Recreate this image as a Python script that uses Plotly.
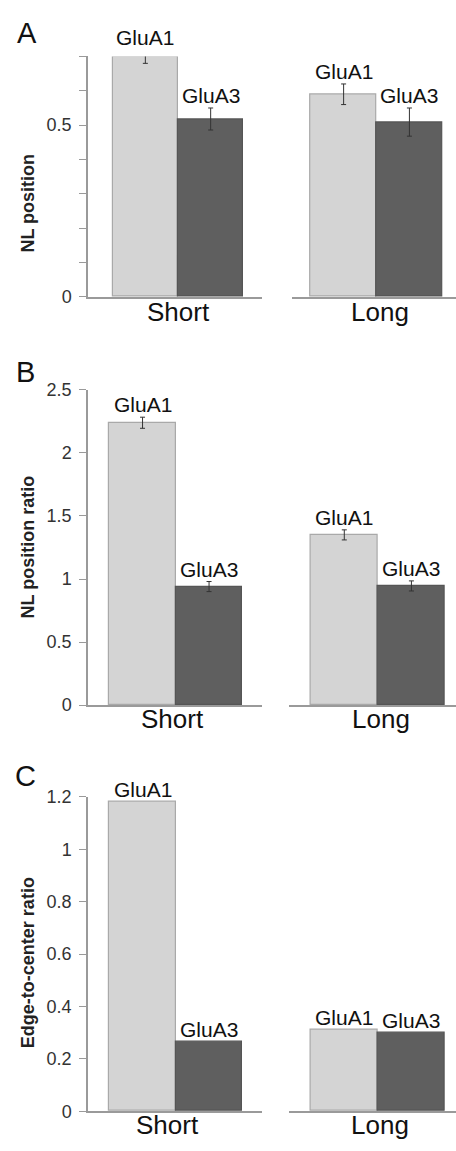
import plotly.graph_objects as go

# ---------------- data ----------------
groups = ["Short", "Long"]
subunits = ["GluA1", "GluA3"]

# Panel A: NL position
A_glua1 = [0.70, 0.59]
A_glua1_err = [0.020, 0.030]
A_glua3 = [0.518, 0.509]
A_glua3_err = [0.032, 0.041]

# Panel B: NL position ratio
B_glua1 = [2.24, 1.35]
B_glua1_err = [0.044, 0.040]
B_glua3 = [0.94, 0.945]
B_glua3_err = [0.040, 0.040]

# Panel C: Edge-to-center ratio (no error bars)
C_glua1 = [1.18, 0.31]
C_glua3 = [0.265, 0.30]

A_ticks = [0, 0.1, 0.2, 0.3, 0.4, 0.5, 0.6, 0.7]
A_ticktext = ["0", "", "", "", "", "0.5", "", ""]
B_ticks = [0, 0.5, 1, 1.5, 2, 2.5]
B_ticktext = ["0", "0.5", "1", "1.5", "2", "2.5"]
C_ticks = [0, 0.2, 0.4, 0.6, 0.8, 1.0, 1.2]
C_ticktext = ["0", "0.2", "0.4", "0.6", "0.8", "1", "1.2"]

# ---------------- layout geometry ----------------
W, H = 456, 1151
FONT = "Liberation Sans, Arial, sans-serif"
LIGHT, LIGHT_EDGE = "#d4d4d4", "#a9a9a9"
DARK, DARK_EDGE = "#5f5f5f", "#555555"
AXIS_COL = "#9a9a9a"


def px_x(p):
    return p / W


def px_y(p):
    return 1 - p / H


panels = [
    dict(letter="A", letter_pos=(27, 23), ytitle="NL position", ytitle_y=197,
         g1=A_glua1, e1=A_glua1_err, g3=A_glua3, e3=A_glua3_err,
         yrange=[0, 0.7], ticks=A_ticks, ticktext=A_ticktext,
         ypx=(292, 47.3), cat_y=307,
         xl=(88, 262), xr=(292.3, 456),
         rl=[-0.878, 1.786], rr=[-0.78, 1.708], cat_shift=(0, 3)),
    dict(letter="B", letter_pos=(25, 368), ytitle="NL position ratio", ytitle_y=547,
         g1=B_glua1, e1=B_glua1_err, g3=B_glua3, e3=B_glua3_err,
         yrange=[0, 2.5], ticks=B_ticks, ticktext=B_ticktext,
         ypx=(707.3, 386.7), cat_y=722,
         xl=(88, 262), xr=(288.7, 456),
         rl=[-0.82, 1.796], rr=[-0.828, 1.664], cat_shift=(-3, 3)),
    dict(letter="C", letter_pos=(25, 780), ytitle="Edge-to-center ratio", ytitle_y=970,
         g1=C_glua1, e1=None, g3=C_glua3, e3=None,
         yrange=[0, 1.2], ticks=C_ticks, ticktext=C_ticktext,
         ypx=(1120.7, 800.7), cat_y=1135,
         xl=(88, 262), xr=(288.7, 456),
         rl=[-0.82, 1.796], rr=[-0.828, 1.664], cat_shift=(-8, 2)),
]

fig = go.Figure()
layout = dict(
    width=W, height=H,
    margin=dict(l=0, r=0, t=0, b=0),
    paper_bgcolor="white", plot_bgcolor="white",
    showlegend=False, bargap=0,
    font=dict(family=FONT, color="#222"),
)
annotations = []

for i, p in enumerate(panels):
    ydom = [px_y(p["ypx"][0]), px_y(p["ypx"][1])]
    y0, y1 = p["yrange"]

    def to_paper(v, ydom=ydom, y0=y0, y1=y1):
        return ydom[0] + (v - y0) / (y1 - y0) * (ydom[1] - ydom[0])

    for s, g in enumerate(groups):
        idx = 2 * i + s + 1
        xa = "x" if idx == 1 else f"x{idx}"
        ya = "y" if idx == 1 else f"y{idx}"
        xkey = "xaxis" if idx == 1 else f"xaxis{idx}"
        ykey = "yaxis" if idx == 1 else f"yaxis{idx}"
        vals = [p["g1"][s], p["g3"][s]]
        err = None
        if p["e1"] is not None:
            err = dict(type="data", array=[p["e1"][s], p["e3"][s]], visible=True,
                       color="#333", thickness=1, width=2.5)
        fig.add_trace(go.Bar(
            x=subunits, y=vals, xaxis=xa, yaxis=ya,
            marker=dict(color=[LIGHT, DARK],
                        line=dict(color=[LIGHT_EDGE, DARK_EDGE], width=1.2)),
            error_y=err, width=1, cliponaxis=False, hoverinfo="skip",
        ))
        xdom = p["xl"] if s == 0 else p["xr"]
        layout[xkey] = dict(
            domain=[px_x(xdom[0]), px_x(xdom[1])], anchor=ya,
            range=p["rl"] if s == 0 else p["rr"],
            showline=True, linecolor=AXIS_COL, linewidth=1.5,
            showticklabels=False, ticks="", showgrid=False, zeroline=False,
            fixedrange=True,
        )
        ycfg = dict(domain=ydom, anchor=xa, range=p["yrange"],
                    showgrid=False, zeroline=False, fixedrange=True)
        if s == 0:
            ycfg.update(showline=True, linecolor=AXIS_COL, linewidth=1.5,
                        ticks="outside", ticklen=7, tickwidth=1.3, tickcolor=AXIS_COL,
                        tickmode="array", tickvals=p["ticks"], ticktext=p["ticktext"],
                        tickfont=dict(family=FONT, size=18, color="#333"),
                        ticklabelstandoff=4)
        else:
            ycfg.update(showline=False, showticklabels=False, ticks="")
        layout[ykey] = ycfg

        # bar labels
        for k, sub in enumerate(subunits):
            top = vals[k]
            errs = p["e1"] if k == 0 else p["e3"]
            if errs is not None:
                top = top + errs[s]
            annotations.append(dict(
                x=sub, y=to_paper(top), xref=xa, yref="paper", text=sub, showarrow=False,
                yanchor="bottom", xanchor="center", yshift=-1,
                font=dict(family=FONT, size=21, color="#111"),
            ))
        # category label
        annotations.append(dict(
            x=0.5, y=px_y(p["cat_y"]), xref=xa, yref="paper", text=g,
            showarrow=False, xanchor="center", yanchor="middle",
            xshift=p["cat_shift"][s],
            font=dict(family=FONT, size=26, color="#111"),
        ))

    # panel letter
    annotations.append(dict(
        x=px_x(p["letter_pos"][0]), y=px_y(p["letter_pos"][1]), xref="paper", yref="paper",
        text=p["letter"], showarrow=False, xanchor="center", yanchor="middle",
        font=dict(family=FONT, size=29, color="#111"),
    ))
    # y-axis title
    annotations.append(dict(
        x=px_x(28), y=px_y(p["ytitle_y"]), xref="paper", yref="paper",
        text=f"<b>{p['ytitle']}</b>", showarrow=False, textangle=-90,
        xanchor="center", yanchor="middle",
        font=dict(family=FONT, size=18, color="#222"),
    ))

layout["annotations"] = annotations
fig.update_layout(**layout)
fig.write_html("out.html", config={"displayModeBar": False},
               post_script="document.body.style.margin='0px';")
